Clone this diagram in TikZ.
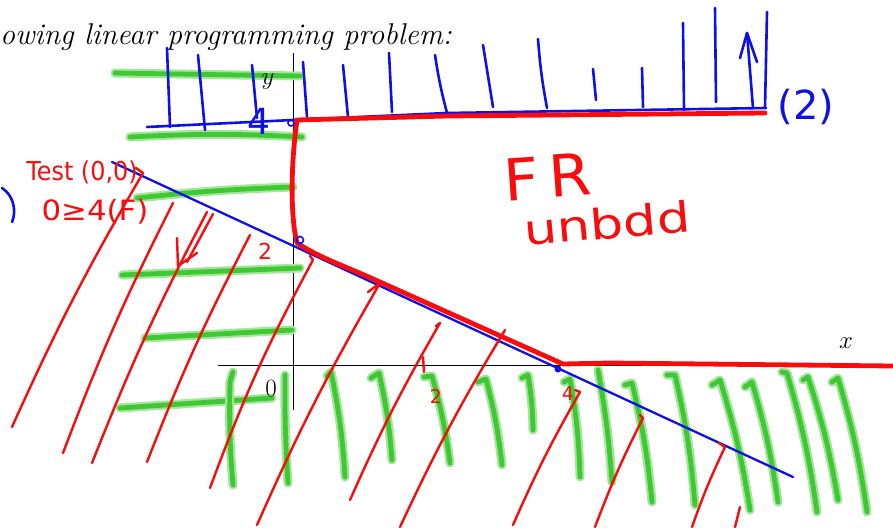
\documentclass[tikz,border=0pt]{standalone}
\usepackage{fontspec}
\newfontfamily\hand{DejaVu Sans}
\usetikzlibrary{arrows.meta}
\definecolor{hblue}{RGB}{15,15,235}
\definecolor{hred}{RGB}{250,12,12}
\definecolor{ghalo}{RGB}{165,228,155}
\definecolor{gcore}{RGB}{62,200,52}
\begin{document}
\begin{tikzpicture}[x=1pt,y=-1pt,
  hl/.style={line width=9pt, draw=ghalo, line cap=round, line join=round, postaction={draw=gcore, line width=4.8pt}},
  bl/.style={draw=hblue, line width=2.6pt, line cap=round, line join=round},
  rd/.style={draw=hred, line width=2.4pt, line cap=round, line join=round},
  rdb/.style={draw=hred, line width=4.8pt, line cap=round, line join=round},
  ax/.style={draw=black, line width=0.9pt},
  handtxt/.style={inner sep=0pt, font=\hand}]
\useasboundingbox (0,0) rectangle (893,527);

% axes
\coordinate (xa0) at (218,365); \coordinate (xa1) at (862,365);
\coordinate (ya0) at (293,53);  \coordinate (ya1) at (293,410);
\draw[ax] (xa0) -- (xa1);
\draw[ax] (ya0) -- (ya1);

% green highlighter hatching
\draw[hl] (115,73) -- (300,76);
\draw[hl] (130,137) to[bend left=3] (302,137);
\draw[hl] (137,198) to[bend left=2] (293,187);
\draw[hl] (122,275) -- (300,268);
\draw[hl] (145,338) -- (292,330);
\draw[hl] (120,408) -- (272,398);
\draw[hl] (233,372) -- (230,382) to[bend right=3] (233,485);
\draw[hl] (285,375) to[bend right=2] (288,483);
\draw[hl] (327,376) -- (331,372) to[bend left=4] (345,477);
\draw[hl] (371,378) -- (379,373) to[bend left=4] (392,460);
\draw[hl] (424,377) -- (432,376) to[bend left=4] (450,463);
\draw[hl] (478,382) -- (486,379) to[bend left=4] (502,465);
\draw[hl] (522,378) -- (528,375) to[bend left=4] (533,430);
\draw[hl] (564,382) -- (570,379) to[bend left=4] (580,477);
\draw[hl] (598,370) to[bend left=3] (612,482);
\draw[hl] (625,385) -- (632,383) to[bend left=4] (652,502);
\draw[hl] (667,375) -- (675,375) to[bend left=4] (695,505);
\draw[hl] (712,385) -- (720,380) to[bend left=4] (750,510);
\draw[hl] (745,387) -- (752,382) to[bend left=4] (778,502);
\draw[hl] (782,372) -- (787,373) to[bend left=4] (817,512);
\draw[hl] (803,380) -- (808,377) to[bend left=4] (838,500);
\draw[hl] (832,382) -- (838,378) to[bend left=4] (867,512);

% printed text and axis labels
\node[anchor=base west, inner sep=0pt, font=\fontsize{30}{31}\selectfont\itshape] (title) at (0,45) {owing linear programming problem:};
\node[inner sep=0pt, font=\fontsize{25}{25}\selectfont] (xlab) at (846,343) {$x$};
\node[inner sep=0pt, font=\fontsize{25}{25}\selectfont] (ylab) at (268,82) {$y$};
\node[inner sep=0pt, font=\fontsize{25}{25}\selectfont] (zero) at (271,388) {$0$};

% blue constraint lines and hatching
\draw[bl, line width=2.3pt] (112,162) -- (793,477);
\draw[bl] (147,127) -- (293,120) -- (447,113) -- (766,108);
\draw[bl] (170,127) -- (167,48);
\draw[bl] (205,130) -- (198,55);
\draw[bl] (257,118) -- (252,65);
\draw[bl] (307,117) -- (303,62);
\draw[bl] (348,117) -- (343,65);
\draw[bl] (392,112) -- (389,53);
\draw[bl] (447,113) to[bend left=3] (435,55);
\draw[bl] (493,107) -- (483,45);
\draw[bl] (547,108) to[bend left=3] (538,39);
\draw[bl] (596,100) -- (593,69);
\draw[bl] (643,107) -- (642,68);
\draw[bl] (684,110) -- (683,23);
\draw[bl] (716,102) -- (715,8);
\draw[bl] (765,108) -- (767,12);
\draw[bl] (753,108) -- (747,33);
\draw[bl] (740,58) -- (747,33) -- (757,62);
\draw[bl] (2,188) .. controls (13,195) and (17,210) .. (12,222);
\node[handtxt, text=hblue, font=\hand\fontsize{40}{40}\selectfont] (lab2) at (806,107) {(2)};
\node[handtxt, text=hblue, font=\hand\fontsize{36}{36}\selectfont] (four) at (259,121) {4};

% red hatching
\draw[rd] (136,168) -- (143,173) to[bend right=3] (12,427);
\draw[rd] (173,203) to[bend right=3] (63,453);
\draw[rd] (207,212) to[bend right=3] (92,463);
\draw[rd] (213,214) -- (187,262);
\draw[rd] (177,238) -- (178,266) -- (197,253);
\draw[rd] (250,235) to[bend right=3] (147,462);
\draw[rd] (310,256) -- (313,260) to[bend right=4] (210,488);
\draw[rd] (368,292) -- (380,283) to[bend right=3] (257,525);
\draw[rd] (436,326) -- (440,323) to[bend right=3] (350,500);
\draw[rd] (505,330) to[bend right=3] (400,527);
\draw[rd] (575,390) -- (580,392) to[bend right=3] (513,525);
\draw[rd] (640,415) -- (643,418) to[bend right=3] (595,527);
\draw[rd] (719,443) -- (725,447) to[bend right=3] (692,527);
\draw[rd] (740,507) -- (735,527);
\draw[rd] (423,357) -- (424,372);

% feasible region boundary
\draw[rdb] (765,113) -- (447,116) -- (297,120) .. controls (290,170) and (291,220) .. (297,243)
  .. controls (320,258) and (340,264) .. (380,282) -- (563,364) -- (610,363) -- (893,366);

% blue points
\draw[hblue, line width=1.6pt] (291,123) circle (3);
\draw[hblue, line width=1.6pt] (300,240) circle (3.5);
\fill[hblue] (558,369) circle (3.5);

% red handwriting
\node[handtxt, text=hred, font=\hand\fontsize{26}{26}\selectfont, xscale=0.92] (test) at (82,172) {Test (0,0)};
\node[handtxt, text=hred, font=\hand\fontsize{28}{28}\selectfont, xscale=1.1] (fals) at (95,212) {0≥4(F)};
\node[handtxt, text=hred, font=\hand\fontsize{22}{22}\selectfont] (two1) at (265,251) {2};
\node[handtxt, text=hred, font=\hand\fontsize{19}{19}\selectfont] (two2) at (436,396) {2};
\node[handtxt, text=hred, font=\hand\fontsize{19}{19}\selectfont] (four2) at (568,394) {4};
\node[handtxt, text=hred, font=\hand\fontsize{58}{58}\selectfont, rotate=4, xscale=1.05] (fr) at (548,177) {F\,R};
\node[handtxt, text=hred, font=\hand\fontsize{42}{42}\selectfont, rotate=5, xscale=1.25] (unb) at (607,223) {unbdd};
\end{tikzpicture}
\end{document}
